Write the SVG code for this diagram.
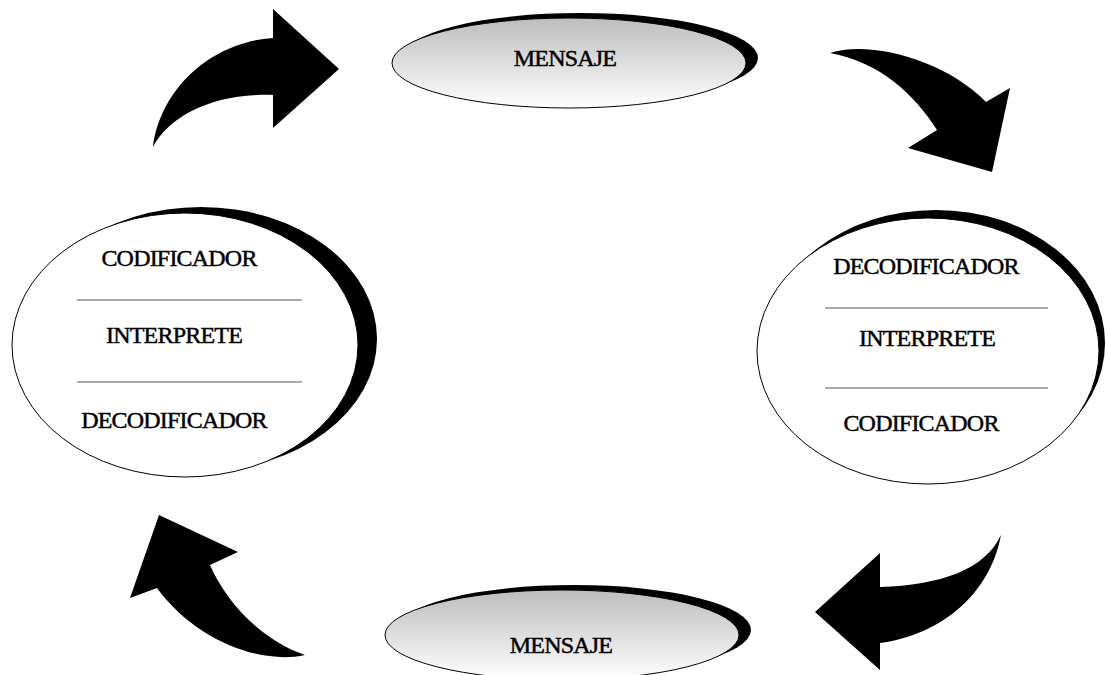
<svg xmlns="http://www.w3.org/2000/svg" width="1106" height="675" viewBox="0 0 1106 675">
<style>
.t{font-family:"Liberation Serif","Times New Roman",serif;font-size:24px;fill:#000;stroke:#000;stroke-width:0.45;letter-spacing:-0.8px;text-anchor:middle}
.sh{fill:#000}
.ov{stroke:#000;stroke-width:1}
.sep{stroke:#555;stroke-width:1}
.arr{fill:#000}
</style>
<defs>
<linearGradient id="g" x1="0" y1="0" x2="0" y2="1">
<stop offset="0" stop-color="#bdbdbd"/>
<stop offset="1" stop-color="#ffffff"/>
</linearGradient>
</defs>
<g id="connectors">
<path class="arr" d="M153,147 C160,90 210,42 273,38 L273,9 L339,69 L273,128 L273,95 C215,93 170,115 153,147 Z"/>
<path class="arr" d="M830,53 C870,40 945,60 986,102 L1010,88 L992,172 L908,148 L937,130 C915,95 880,62 830,53 Z"/>
<path class="arr" d="M1001,535 C985,570 940,585 880,587 L880,553 L815,612 L880,670 L880,643 C940,635 990,595 1001,535 Z"/>
<path class="arr" d="M159,515 L238,552 L210,565 C225,600 260,640 305,655 C260,665 195,640 157,588 L130,598 Z"/>
</g>
<g id="mensaje-top">
<ellipse class="sh" cx="580" cy="58" rx="178" ry="45"/>
<ellipse class="ov" cx="569" cy="63" rx="177" ry="45" fill="url(#g)"/>
<text class="t" x="565" y="66">MENSAJE</text>
</g>
<g id="mensaje-bottom">
<ellipse class="sh" cx="574" cy="630" rx="177" ry="45"/>
<ellipse class="ov" cx="562" cy="635" rx="177" ry="45" fill="url(#g)"/>
<text class="t" x="561" y="653">MENSAJE</text>
</g>
<g id="emisor">
<ellipse class="sh" cx="201" cy="339" rx="176" ry="132"/>
<ellipse class="ov" cx="185" cy="345" rx="173" ry="132" fill="#fff"/>
<line class="sep" x1="77" y1="300" x2="302" y2="300"/>
<line class="sep" x1="77" y1="382" x2="302" y2="382"/>
<text class="t" x="179" y="266">CODIFICADOR</text>
<text class="t" x="174" y="343">INTERPRETE</text>
<text class="t" x="174" y="428">DECODIFICADOR</text>
</g>
<g id="receptor">
<ellipse class="sh" cx="936" cy="343" rx="169" ry="133"/>
<ellipse class="ov" cx="928" cy="351" rx="171" ry="133" fill="#fff"/>
<line class="sep" x1="825" y1="308" x2="1048" y2="308"/>
<line class="sep" x1="825" y1="388" x2="1048" y2="388"/>
<text class="t" x="926" y="274">DECODIFICADOR</text>
<text class="t" x="927" y="346">INTERPRETE</text>
<text class="t" x="921" y="431">CODIFICADOR</text>
</g>
</svg>
